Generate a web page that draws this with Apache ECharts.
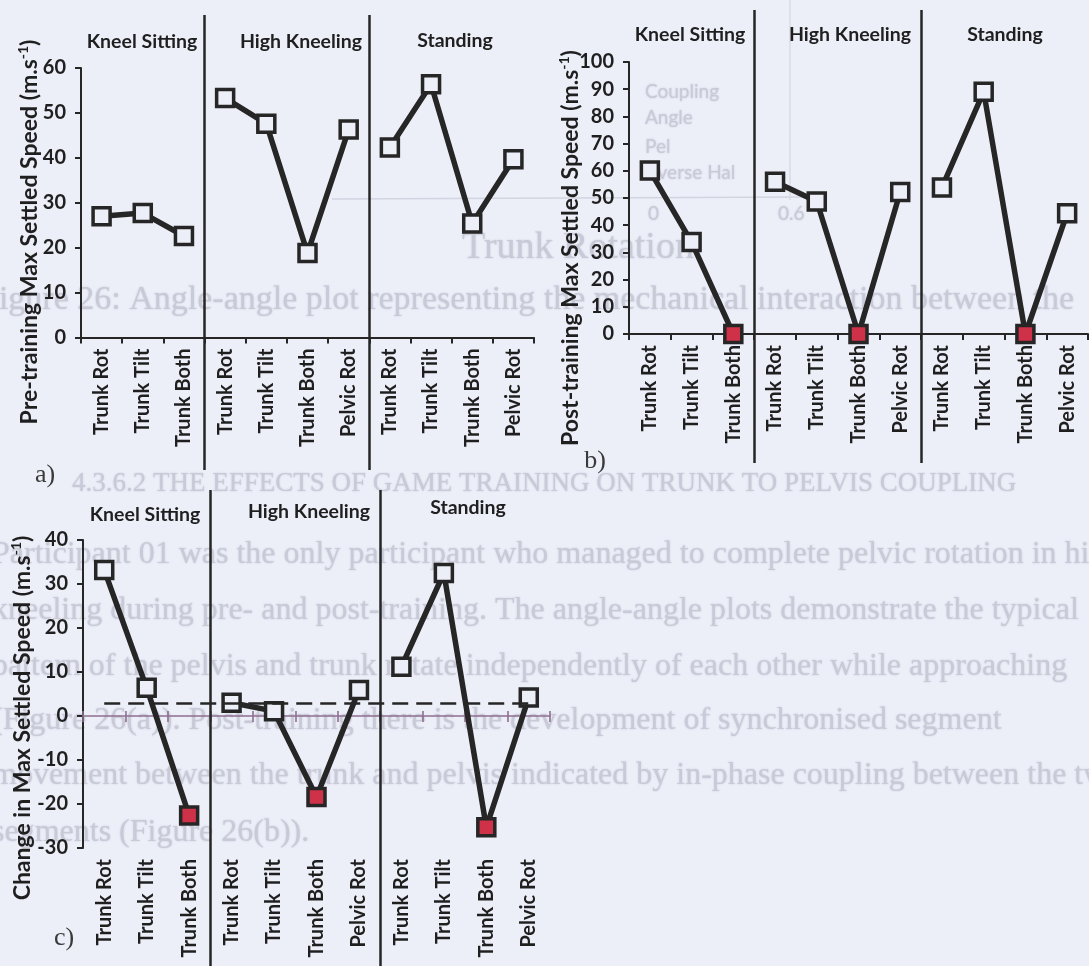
<!DOCTYPE html>
<html>
<head>
<meta charset="utf-8">
<script src="https://cdn.jsdelivr.net/npm/echarts@6/dist/echarts.min.js"></script>
<style>
  html, body { margin: 0; padding: 0; background: #eceef8; }
  #chart { width: 1089px; height: 966px; }
</style>
</head>
<body>
<div id="chart"></div>
<script>
// ---- data ----
const groups = ['Kneel Sitting', 'High Kneeling', 'Standing'];
const groupMovements = [
  ['Trunk Rot', 'Trunk Tilt', 'Trunk Both'],
  ['Trunk Rot', 'Trunk Tilt', 'Trunk Both', 'Pelvic Rot'],
  ['Trunk Rot', 'Trunk Tilt', 'Trunk Both', 'Pelvic Rot']
];
// max settled speed (m.s-1), one value per movement, groups in order
const preTraining   = [27.0, 27.7, 22.6, 53.3, 47.6, 18.8, 46.3, 42.3, 56.4, 25.4, 39.7];
const postTraining  = [60.1, 33.8, 0, 56.0, 48.7, 0, 52.2, 53.9, 89.1, 0, 44.4];
const changeInSpeed = [33.2, 6.4, -22.6, 3.0, 1.1, -18.4, 5.9, 11.2, 32.5, -25.3, 4.2];
// movement that could not be completed after training (filled red)
const failedMovement = 'Trunk Both';

// value axis ranges and tick steps
const preTicks    = { min: 0,   max: 60,  interval: 10 };
const postTicks   = { min: 0,   max: 100, interval: 10 };
const changeTicks = { min: -30, max: 40,  interval: 10 };

const axisTitles = [
  'Pre-training Max Settled Speed (m.s',
  'Post-training Max Settled Speed (m.s',
  'Change in Max Settled Speed (m.s'
];
const panelLetters = ['a)', 'b)', 'c)'];

// ---- styling ----
const FONT = 'Lato';
const INK = '#1f1f1f';
const LINE = '#262626';
const BG = '#eceef8';
const RED = '#cf3149';
const ZERO = '#8e6f90';
const GHOST = '#c8cad7';

const categories = groupMovements.flat();
const groupRanges = [];
{
  let start = 0;
  groupMovements.forEach(g => { groupRanges.push([start, start + g.length - 1]); start += g.length; });
}
const separatorIndices = groupRanges.slice(1).map(r => r[0]);
const meanChange = changeInSpeed.reduce((s, v) => s + v, 0) / changeInSpeed.length;

const panels = [
  {
    values: preTraining, ticks: preTicks, highlight: false, zeroLine: false,
    plot:  { left: 81,  top: 68,  width: 453, height: 269.5 },
    frame: { left: 81,  top: 15,  width: 453, height: 455 },
    titlePos: [[142, 42], [301, 42], [455, 41]],
    axisTitlePos: [30, 232], letterPos: [45, 475], mean: false
  },
  {
    values: postTraining, ticks: postTicks, highlight: true, zeroLine: false,
    plot:  { left: 629, top: 62,  width: 459, height: 272 },
    frame: { left: 629, top: 10,  width: 459, height: 453 },
    titlePos: [[690, 35], [850, 35], [1005, 35]],
    axisTitlePos: [571, 248], letterPos: [595, 461], mean: false
  },
  {
    values: changeInSpeed, ticks: changeTicks, highlight: true, zeroLine: true,
    plot:  { left: 83,  top: 540, width: 467, height: 308 },
    frame: { left: 83,  top: 490, width: 467, height: 476 },
    titlePos: [[145, 515], [309, 512], [468, 508]],
    axisTitlePos: [23, 718], letterPos: [64, 938], mean: true
  }
];

const labelFont = { fontFamily: FONT, fontWeight: 'bold', fontSize: 20, color: INK };

const grid = [], xAxis = [], yAxis = [], series = [], graphic = [];

panels.forEach((p, k) => {
  // main plotting grid
  const g = grid.length;
  grid.push(Object.assign({ containLabel: false }, p.plot));
  // frame grid used for the full-height group separators
  const gf = grid.length;
  grid.push(Object.assign({ containLabel: false }, p.frame));

  const yMain = yAxis.length;
  yAxis.push({
    type: 'value', gridIndex: g, min: p.ticks.min, max: p.ticks.max, interval: p.ticks.interval,
    axisLine: { show: true, lineStyle: { color: LINE, width: 2 } },
    axisTick: { show: true, inside: false, length: 6, lineStyle: { color: LINE, width: 2 } },
    axisLabel: Object.assign({ margin: 15 }, labelFont),
    splitLine: { show: false }
  });

  const xMain = xAxis.length;
  if (!p.zeroLine) {
    xAxis.push({
      type: 'category', gridIndex: g, data: categories, position: 'bottom',
      axisLine: { show: true, onZero: false, lineStyle: { color: LINE, width: 2 } },
      axisTick: { show: true, inside: false, length: 6, interval: 0, lineStyle: { color: LINE, width: 2 } },
      axisLabel: Object.assign({ interval: 0, rotate: 90, margin: 11 }, labelFont),
      splitLine: { show: false }
    });
  } else {
    // zero line with crossing ticks: one axis ticking down, one ticking up
    xAxis.push({
      type: 'category', gridIndex: g, data: categories, position: 'bottom',
      axisLine: { show: true, onZero: true, onZeroAxisIndex: yMain, lineStyle: { color: ZERO, width: 1.6 } },
      axisTick: { show: true, inside: false, length: 6, interval: 0, lineStyle: { color: ZERO, width: 1.6 } },
      axisLabel: { show: false }, splitLine: { show: false }
    });
    xAxis.push({
      type: 'category', gridIndex: g, data: categories, position: 'top',
      axisLine: { show: false, onZero: true, onZeroAxisIndex: yMain },
      axisTick: { show: true, inside: false, length: 5, interval: 0, lineStyle: { color: ZERO, width: 1.6 } },
      axisLabel: { show: false }, splitLine: { show: false }
    });
    // category labels along the bottom of the plot
    xAxis.push({
      type: 'category', gridIndex: g, data: categories, position: 'bottom',
      axisLine: { show: false, onZero: false }, axisTick: { show: false },
      axisLabel: Object.assign({ interval: 0, rotate: 90, margin: 11 }, labelFont),
      splitLine: { show: false }
    });
  }

  const xFrame = xAxis.length;
  xAxis.push({ type: 'value', gridIndex: gf, min: 0, max: categories.length, show: false });
  const yFrame = yAxis.length;
  yAxis.push({ type: 'value', gridIndex: gf, min: 0, max: 1, show: false });

  // separators between movement groups
  series.push({
    type: 'line', xAxisIndex: xFrame, yAxisIndex: yFrame, data: [], silent: true,
    markLine: {
      silent: true, symbol: ['none', 'none'], label: { show: false },
      lineStyle: { color: LINE, width: 2.5, type: 'solid' },
      data: separatorIndices.map(i => ({ xAxis: i }))
    }
  });

  // mean change reference line
  if (p.mean) {
    series.push({
      type: 'line', xAxisIndex: xMain, yAxisIndex: yMain, data: [], silent: true, z: 2,
      markLine: {
        silent: true, symbol: ['none', 'none'], label: { show: false },
        lineStyle: { color: LINE, width: 2.5, type: [16, 8] },
        data: [[{ coord: [0, meanChange] }, { coord: [categories.length - 1, meanChange] }]]
      }
    });
  }

  // one connected line per movement group
  groupRanges.forEach(([s, e]) => {
    const data = categories.map((c, i) => {
      if (i < s || i > e) return null;
      const item = { value: p.values[i] };
      if (p.highlight && c === failedMovement) item.itemStyle = { color: RED };
      return item;
    });
    series.push({
      type: 'line', xAxisIndex: xMain, yAxisIndex: yMain, data: data, z: 3,
      connectNulls: false, symbol: 'rect', symbolSize: 17, showSymbol: true, showAllSymbol: true,
      lineStyle: { color: LINE, width: 5.5, join: 'round' },
      itemStyle: { color: BG, borderColor: LINE, borderWidth: 3.5 },
      emphasis: { disabled: true }, silent: true
    });
  });

  // group titles
  groups.forEach((name, j) => {
    graphic.push({
      type: 'text', x: p.titlePos[j][0], y: p.titlePos[j][1], z: 10, silent: true,
      style: { text: name, fontFamily: FONT, fontWeight: 'bold', fontSize: 19.5, fill: INK,
               align: 'center', verticalAlign: 'middle' }
    });
  });

  // value axis title with superscript unit
  graphic.push({
    type: 'text', x: p.axisTitlePos[0], y: p.axisTitlePos[1], rotation: Math.PI / 2, z: 10, silent: true,
    style: {
      text: '{m|' + axisTitles[k] + '}{s|-1}{m|)}',
      align: 'center', verticalAlign: 'middle',
      rich: {
        m: { fontFamily: FONT, fontWeight: 'bold', fontSize: 23, fill: INK, lineHeight: 28 },
        s: { fontFamily: FONT, fontWeight: 'bold', fontSize: 14, fill: INK, lineHeight: 14, verticalAlign: 'top' }
      }
    }
  });

  // panel letter
  graphic.push({
    type: 'text', x: p.letterPos[0], y: p.letterPos[1], z: 10, silent: true,
    style: { text: panelLetters[k], fontFamily: 'Liberation Serif', fontSize: 26, fill: '#3a3a3a',
             align: 'center', verticalAlign: 'middle' }
  });
});

// faint show-through of the facing printed page
const ghostLines = [
  { x: -20, y: 300, size: 34, font: 'Liberation Serif', text: 'Figure 26: Angle-angle plot representing the mechanical interaction between the' },
  { x: 72,  y: 484, size: 27, font: 'Liberation Serif', text: '4.3.6.2 THE EFFECTS OF GAME TRAINING ON TRUNK TO PELVIS COUPLING' },
  { x: -8,  y: 555, size: 32, font: 'Liberation Serif', text: 'Participant 01 was the only participant who managed to complete pelvic rotation in high' },
  { x: -8,  y: 611, size: 32, font: 'Liberation Serif', text: 'kneeling during pre- and post-training. The angle-angle plots demonstrate the typical' },
  { x: -8,  y: 667, size: 32, font: 'Liberation Serif', text: 'pattern of the pelvis and trunk rotate independently of each other while approaching' },
  { x: -8,  y: 721, size: 32, font: 'Liberation Serif', text: '(Figure 26(a)). Post-training there is the development of synchronised segment' },
  { x: -8,  y: 776, size: 32, font: 'Liberation Serif', text: 'movement between the trunk and pelvis indicated by in-phase coupling between the two' },
  { x: -8,  y: 833, size: 32, font: 'Liberation Serif', text: 'segments (Figure 26(b)).' },
  { x: 462, y: 248, size: 38, font: 'Liberation Serif', text: 'Trunk Rotation' },
  { x: 645, y: 92,  size: 19, font: FONT, text: 'Coupling' },
  { x: 645, y: 118, size: 19, font: FONT, text: 'Angle' },
  { x: 645, y: 147, size: 19, font: FONT, text: 'Pel' },
  { x: 642, y: 173, size: 19, font: FONT, text: 'Inverse Hal' },
  { x: 648, y: 214, size: 19, font: FONT, text: '0' },
  { x: 778, y: 214, size: 19, font: FONT, text: '0.6' }
];
ghostLines.forEach(l => graphic.push({
  type: 'text', x: l.x, y: l.y, z: -1, silent: true,
  style: { text: l.text, fontFamily: l.font, fontSize: l.size, fill: GHOST,
           textShadowColor: GHOST, textShadowBlur: 2,
           align: 'left', verticalAlign: 'middle' }
}));
// faint axis lines of the facing figure
graphic.push({ type: 'line', z: -1, silent: true, shape: { x1: 332, y1: 199, x2: 806, y2: 197 },
               style: { stroke: '#d2d4e0', lineWidth: 1.5 } });
graphic.push({ type: 'line', z: -1, silent: true, shape: { x1: 790, y1: 0, x2: 790, y2: 200 },
               style: { stroke: '#d8dae4', lineWidth: 1.5 } });

const chart = echarts.init(document.getElementById('chart'), null, { renderer: 'canvas' });
chart.setOption({
  backgroundColor: BG,
  animation: false,
  grid, xAxis, yAxis, series, graphic
});
</script>
</body>
</html>
